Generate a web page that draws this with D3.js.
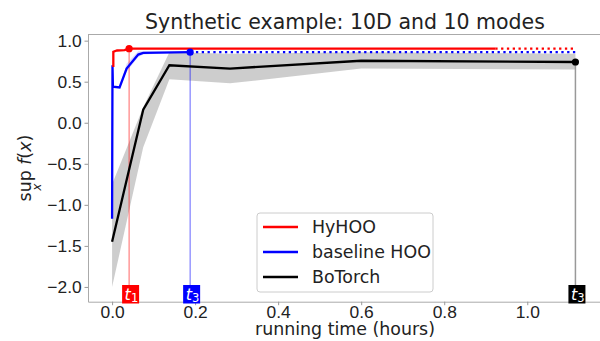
<!DOCTYPE html>
<html lang="en">
<head>
<meta charset="UTF-8">
<title>Synthetic example: 10D and 10 modes</title>
<style>
    body { margin: 0; padding: 0; background: #fff; }
    svg { display: block; font-family: "DejaVu Sans", sans-serif; }
    .tick line { stroke: #999; }
    .tick text { fill: #222; font-size: 17.4px; }
    .domain { stroke: #aaa; }
</style>
</head>
<body>
<svg id="chart" width="600" height="341"></svg>
<script src="https://d3js.org/d3.v7.min.js"></script>
<script>
    // HyHOO (red)
    const hyhooT = [0.003, 0.003, 0.012, 0.03, 0.041, 0.923];
    const hyhooV = [0.68, 0.865, 0.88, 0.885, 0.902, 0.902];
    const hyhooDotT = [0.923, 1.116];
    const hyhooDotV = [0.902, 0.902];

    // baseline HOO (blue)
    const baseT = [0.0, 0.001, 0.002, 0.018, 0.035, 0.063, 0.075, 0.188];
    const baseV = [-1.17, 0.70, 0.44, 0.43, 0.66, 0.83, 0.85, 0.86];
    const baseLo = [-1.17, 0.70, 0.44, 0.43, 0.62, 0.80, 0.83, 0.86];
    const baseHi = [-1.17, 0.70, 0.44, 0.43, 0.72, 0.87, 0.87, 0.86];
    const baseDotT = [0.188, 1.116];
    const baseDotV = [0.86, 0.86];

    // BoTorch (black) with gray band
    const boT = [0.0, 0.075, 0.138, 0.284, 0.6, 1.116];
    const boV = [-1.45, 0.16, 0.70, 0.66, 0.755, 0.74];
    const boLo = [-2.0, -0.30, 0.53, 0.48, 0.66, 0.65];
    const boHi = [-0.75, 0.19, 0.86, 0.84, 0.86, 0.84];

    // t markers
    const markT = [0.041, 0.188, 1.116];
    const markV = [0.902, 0.86, 0.74];
    const markColor = ["#ff0000", "#0000ff", "#000000"];
    const markSub = ["1", "3", "3"];

    const xTicks = [0.0, 0.2, 0.4, 0.6, 0.8, 1.0];
    const yTicks = [-2.0, -1.5, -1.0, -0.5, 0.0, 0.5, 1.0];
    const legendNames = ["HyHOO", "baseline HOO", "BoTorch"];
    const legendColors = ["#ff0000", "#0000ff", "#000000"];

    const svg = d3.select("#chart");
    const pLeft = 88, pRight = 602, pTop = 34.5, pBottom = 301.7;

    const x = d3.scaleLinear().domain([-0.058, 1.18]).range([pLeft, pRight]);
    const y = d3.scaleLinear().domain([-2.18, 1.075]).range([pBottom, pTop]);

    const zip = (t, v) => t.map((d, i) => [d, v[i]]);
    const line = d3.line().x(d => x(d[0])).y(d => y(d[1]));
    const area = d3.area().x(d => x(d[0])).y0(d => y(d[1])).y1(d => y(d[2]));

    // gray band for BoTorch
    svg.append("path")
        .attr("d", area(boT.map((t, i) => [t, boLo[i], boHi[i]])))
        .attr("fill", "#c4c4c4").attr("opacity", 0.85);

    // light band for baseline
    svg.append("path")
        .attr("d", area(baseT.map((t, i) => [t, baseLo[i], baseHi[i]])))
        .attr("fill", "#0000ff").attr("opacity", 0.15);

    // vertical t lines
    markT.forEach((t, i) => {
        svg.append("line")
            .attr("x1", x(t)).attr("x2", x(t))
            .attr("y1", y(markV[i])).attr("y2", pBottom)
            .attr("stroke", i === 2 ? "#999" : markColor[i])
            .attr("stroke-width", i === 2 ? 1.5 : 1)
            .attr("opacity", i === 2 ? 1 : 0.6);
    });

    // series lines
    svg.append("path").attr("d", line(zip(boT, boV)))
        .attr("fill", "none").attr("stroke", "#000").attr("stroke-width", 2.3);
    svg.append("path").attr("d", line(zip(baseT, baseV)))
        .attr("fill", "none").attr("stroke", "#0000ff").attr("stroke-width", 2.3);
    svg.append("path").attr("d", line(zip(baseDotT, baseDotV)))
        .attr("fill", "none").attr("stroke", "#0000ff").attr("stroke-width", 2.3)
        .attr("stroke-dasharray", "2.3,3.5");
    svg.append("path").attr("d", line(zip(hyhooT, hyhooV)))
        .attr("fill", "none").attr("stroke", "#ff0000").attr("stroke-width", 2.3);
    svg.append("path").attr("d", line(zip(hyhooDotT, hyhooDotV)))
        .attr("fill", "none").attr("stroke", "#ff0000").attr("stroke-width", 2.3)
        .attr("stroke-dasharray", "2.3,3.5");

    // markers
    markT.forEach((t, i) => {
        svg.append("circle")
            .attr("cx", x(t)).attr("cy", y(markV[i])).attr("r", 3.6)
            .attr("fill", markColor[i]);
    });

    // axes
    svg.append("g").attr("transform", `translate(0,${pBottom})`)
        .call(d3.axisBottom(x).tickValues(xTicks).tickFormat(d3.format(".1f"))
            .tickSize(3.5).tickPadding(0.5).tickSizeOuter(0));
    svg.append("g").attr("transform", `translate(${pLeft},0)`)
        .call(d3.axisLeft(y).tickValues(yTicks).tickFormat(d => d3.format(".1f")(d).replace("-", "\u2212"))
            .tickSize(3.5).tickPadding(2.8).tickSizeOuter(0));
    svg.append("line").attr("x1", pLeft).attr("x2", 600).attr("y1", pTop).attr("y2", pTop)
        .attr("stroke", "#aaa");

    // t labels
    markT.forEach((t, i) => {
        const g = svg.append("g").attr("transform", `translate(${x(t) - 7},285)`);
        g.append("rect").attr("width", 17).attr("height", 18.5).attr("fill", markColor[i]);
        const tx = g.append("text").attr("x", 2.5).attr("y", 14.5).attr("fill", "#fff")
            .attr("font-size", 16);
        tx.append("tspan").attr("font-style", "italic").text("t");
        tx.append("tspan").attr("font-size", 11.5).attr("dy", 2.5).text(markSub[i]);
    });

    // legend
    const lg = svg.append("g").attr("transform", "translate(257,213)");
    lg.append("rect").attr("width", 176).attr("height", 79).attr("rx", 3)
        .attr("fill", "#fff").attr("fill-opacity", 0.8).attr("stroke", "#ccc");
    legendNames.forEach((n, i) => {
        const yy = 14 + i * 25;
        lg.append("line").attr("x1", 6).attr("x2", 41).attr("y1", yy).attr("y2", yy)
            .attr("stroke", legendColors[i]).attr("stroke-width", 2.3);
        lg.append("text").attr("x", 55).attr("y", yy + 6).attr("font-size", 17.4)
            .attr("fill", "#222").text(n);
    });

    // title and axis labels
    svg.append("text").attr("x", (pLeft + pRight) / 2).attr("y", 29)
        .attr("text-anchor", "middle").attr("font-size", 20.5).attr("fill", "#222")
        .text("Synthetic example: 10D and 10 modes");
    svg.append("text").attr("x", (pLeft + pRight) / 2).attr("y", 335)
        .attr("text-anchor", "middle").attr("font-size", 17.4).attr("fill", "#222")
        .text("running time (hours)");

    const cy = (pTop + pBottom) / 2;
    const yl = svg.append("text").attr("transform", `translate(31,${cy}) rotate(-90)`)
        .attr("text-anchor", "middle").attr("font-size", 17.4).attr("fill", "#222");
    yl.append("tspan").text("sup ");
    yl.append("tspan").attr("font-style", "italic").text("f");
    yl.append("tspan").text("(");
    yl.append("tspan").attr("font-style", "italic").text("x");
    yl.append("tspan").text(")");
    svg.append("text").attr("transform", `translate(41,${cy + 19}) rotate(-90)`)
        .attr("text-anchor", "middle").attr("font-size", 12).attr("font-style", "italic")
        .attr("fill", "#222").text("x");
</script>
</body>
</html>
